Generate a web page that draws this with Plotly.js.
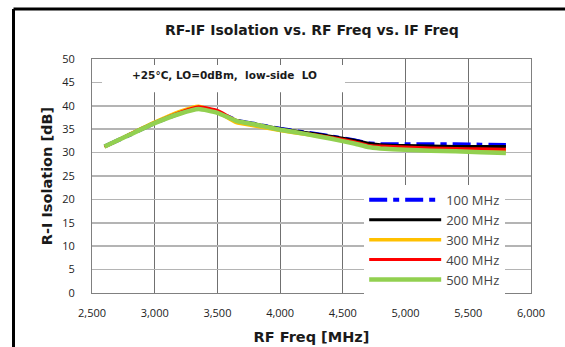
<!DOCTYPE html>
<html>
<head>
<meta charset="utf-8">
<script src="https://cdn.plot.ly/plotly-3.0.1.min.js"></script>
<style>
html,body{margin:0;padding:0;background:#fff;}
#chart{width:565px;height:347px;}
</style>
</head>
<body>
<div id="chart"></div>
<script>
// RF frequency points (MHz)
const rfFreq = [2600, 2800, 3000, 3200, 3350, 3500, 3650, 3800, 4000, 4200, 4400, 4600, 4700, 4800, 5000, 5200, 5400, 5600, 5800];

// R-I isolation (dB) per IF frequency
const if100 = [31.3, 33.8, 36.3, 38.4, 39.5, 38.7, 36.9, 36.1, 35.1, 34.3, 33.5, 32.6, 32.0, 31.8, 31.8, 31.8, 31.8, 31.7, 31.6];
const if200 = [31.3, 33.8, 36.3, 38.4, 39.5, 38.7, 36.9, 36.1, 35.1, 34.3, 33.5, 32.6, 32.0, 31.7, 31.5, 31.4, 31.3, 31.3, 31.3];
const if300 = [31.2, 33.9, 36.5, 38.8, 39.9, 38.7, 36.4, 35.7, 34.7, 33.9, 33.1, 32.0, 31.4, 31.1, 30.9, 30.7, 30.5, 30.4, 30.3];
const if400 = [31.3, 33.9, 36.4, 38.6, 39.8, 39.0, 36.9, 36.0, 34.9, 34.1, 33.3, 32.3, 31.6, 31.4, 31.2, 31.0, 30.9, 30.8, 30.7];
const if500 = [31.3, 33.8, 36.3, 38.3, 39.3, 38.5, 36.8, 36.0, 34.9, 34.0, 33.0, 31.9, 31.2, 30.9, 30.6, 30.4, 30.3, 30.1, 29.9];

const seriesNames = ['100 MHz', '200 MHz', '300 MHz', '400 MHz', '500 MHz'];
const seriesValues = [if100, if200, if300, if400, if500];
const seriesColors = ['#0000ff', '#000000', '#ffc000', '#ff0000', '#92d050'];
const seriesWidths = [4, 3, 3.5, 3, 4.5];
const seriesDash = ['18px,6px,6px,6px', 'solid', 'solid', 'solid', 'solid'];

const traces = seriesNames.map((n, i) => ({
  type: 'scatter', mode: 'lines', name: n,
  x: rfFreq, y: seriesValues[i],
  line: {color: seriesColors[i], width: seriesWidths[i], dash: seriesDash[i], shape: 'spline', smoothing: 0.4}
}));

const layout = {
  width: 565, height: 347,
  margin: {l: 92, r: 34, t: 59, b: 54},
  paper_bgcolor: '#ffffff', plot_bgcolor: '#ffffff',
  showlegend: true,
  font: {family: '"Open Sans", sans-serif', size: 11, color: '#222'},
  title: {text: 'RF-IF Isolation vs. RF Freq vs. IF Freq', x: 0.552, xanchor: 'center', y: 0.913, yanchor: 'middle',
    font: {family: '"DejaVu Sans", sans-serif', size: 14, color: '#1a1a1a', weight: 'bold'}},
  xaxis: {
    range: [2500, 6000], dtick: 500, tick0: 2500, tickformat: ',d',
    showgrid: true, gridcolor: '#707070', gridwidth: 1,
    showline: true, linecolor: '#808080', linewidth: 1, mirror: true,
    zeroline: false, ticks: '', ticklabelstandoff: 10,
    tickfont: {family: '"Open Sans", sans-serif', size: 11, color: '#222'},
    title: {text: 'RF Freq [MHz]', standoff: 12, font: {family: '"DejaVu Sans", sans-serif', size: 14.5, color: '#1a1a1a', weight: 'bold'}}
  },
  yaxis: {
    range: [0, 50], dtick: 5, tick0: 0,
    showgrid: true, gridcolor: '#b4b4b4', gridwidth: 1.5,
    showline: true, linecolor: '#808080', linewidth: 1, mirror: true,
    zeroline: false, ticks: '', ticklabelstandoff: 14,
    tickfont: {family: '"Open Sans", sans-serif', size: 11, color: '#222'},
    title: {text: 'R-I Isolation [dB]', standoff: 6, font: {family: '"DejaVu Sans", sans-serif', size: 14.5, color: '#1a1a1a', weight: 'bold'}}
  },
  legend: {
    x: 0.62, y: 0.462, xanchor: 'left', yanchor: 'top',
    bgcolor: '#ffffff', borderwidth: 0, itemwidth: 72, tracegroupgap: 0,
    font: {family: '"Open Sans", sans-serif', size: 13, color: '#444'}
  },
  shapes: [
    // white box behind condition note
    {type: 'rect', xref: 'x', yref: 'y', x0: 2580, x1: 4517, y0: 42.9, y1: 48.7,
      fillcolor: '#ffffff', line: {width: 0}, layer: 'between'},
    // outer black frame (left and top)
    {type: 'line', xref: 'paper', yref: 'paper', x0: -0.1788, x1: -0.1788, y0: -0.25, y1: 1.2137,
      line: {color: '#000', width: 3}},
    {type: 'line', xref: 'paper', yref: 'paper', x0: -0.1788, x1: 1.08, y0: 1.2137, y1: 1.2137,
      line: {color: '#000', width: 3}}
  ],
  annotations: [
    {xref: 'x', yref: 'y', x: 3560, y: 46.5, text: '+25°C, LO=0dBm,  low-side  LO', showarrow: false,
      font: {family: '"DejaVu Sans", sans-serif', size: 10.5, color: '#1a1a1a', weight: 'bold'}}
  ]
};

Plotly.newPlot('chart', traces, layout, {staticPlot: true, displayModeBar: false});
</script>
</body>
</html>
